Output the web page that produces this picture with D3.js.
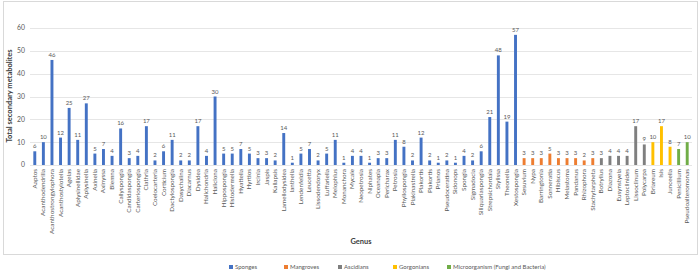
<!DOCTYPE html>
<html lang="en">
<head>
<meta charset="UTF-8">
<title>Secondary metabolites by genus</title>
<script src="https://d3js.org/d3.v7.min.js"></script>
<style>
  body { margin: 0; background: #fff; font-family: Lato, "Liberation Sans", sans-serif; }
  .grid line { stroke: #e6e6e6; stroke-width: 1px; }
  .val { font-size: 6px; fill: #595959; }
  .cat { font-size: 6.3px; fill: #595959; }
  .ytick { font-size: 6.8px; fill: #595959; }
</style>
</head>
<body>
<div id="chart"></div>
<script>
// data, one pair of arrays per group
var spongeGenera = ["Aaptos","Acanthodendrilla","Acanthostrongylophora","Acanthostylotella","Agelas",
  "Aplysinellidae","Aplysinella","Axinella","Axinyssa","Biemna","Callyspongia","Candidaspongia",
  "Carteriospongia","Clathria","Coelocarteria","Corticium","Dactylospongia","Dasychalina","Diacarnus",
  "Dysidea","Halichondria","Haliclona","Hippospongia","Histodermella","Hyattella","Hyrtios","Ircinia",
  "Jaspis","Kallapsis","Lamellodysidea","Ianthella","Lendenfeldia","Leucetta","Lissodendoryx",
  "Luffariella","Melophlus","Monanchora","Mycale","Neopetrosia","Niphates","Oceanapia","Pericharax",
  "Petrosia","Phyllospongia","Plakinastrella","Plakortis","Plakortis","Prianos","Pseudoceratina",
  "Sidonops","Spongia","Sigmadocia","Siliquariaspongia","Strepsichordaia","Stylissa","Theonella",
  "Xestospongia"];
var spongeValues = [6,10,46,12,25,11,27,5,7,4,16,3,4,17,2,6,11,2,2,17,4,30,5,5,7,5,3,3,2,14,1,5,7,2,
  5,11,1,4,4,1,3,3,11,8,2,12,2,1,2,1,4,2,6,21,48,19,57];

var mangroveGenera = ["Sesuvium","Nypa","Barringtonia","Sonneratia","Hibiscus","Melastoma","Pandanus",
  "Rhizophora","Stachytarpheta"];
var mangroveValues = [3,3,3,5,3,3,3,2,3];

var ascidianGenera = ["Botryllus","Diazona","Eusynstyela","Leptoclinides","Lissoclinum","Polycarpa"];
var ascidianValues = [3,4,4,4,17,9];

var gorgonianGenera = ["Briareum","Isis","Junceella"];
var gorgonianValues = [10,17,8];

var microGenera = ["Penicillium","Pseudoalteromonas"];
var microValues = [7,10];

var groups = [
  { name: "Sponges", color: "#4472C4", genera: spongeGenera, values: spongeValues },
  { name: "Mangroves", color: "#ED7D31", genera: mangroveGenera, values: mangroveValues },
  { name: "Ascidians", color: "#7F7F7F", genera: ascidianGenera, values: ascidianValues },
  { name: "Gorgonians", color: "#FFC000", genera: gorgonianGenera, values: gorgonianValues },
  { name: "Microorganism (Fungi and Bacteria)", color: "#70AD47", genera: microGenera, values: microValues }
];

var yTicks = [0,10,20,30,40,50,60];

var rows = [];
groups.forEach(function(g) {
  g.genera.forEach(function(name, i) {
    rows.push({ id: rows.length, genus: name, value: g.values[i], color: g.color });
  });
});

var width = 700, height = 271;
var svg = d3.select("#chart").append("svg")
  .attr("width", width)
  .attr("height", height);

// outer chart border
svg.append("rect")
  .attr("x", 3.5).attr("y", 1.5)
  .attr("width", 694).attr("height", 253)
  .attr("fill", "none").attr("stroke", "#d9d9d9");

var x = d3.scaleBand()
  .domain(rows.map(function(d) { return d.id; }))
  .range([30.5, 691.5])
  .paddingInner(0.66)
  .paddingOuter(0.33);

var y = d3.scaleLinear()
  .domain([0, 60])
  .range([165, 28]);

// gridlines
svg.append("g").attr("class", "grid")
  .selectAll("line").data(yTicks).enter().append("line")
  .attr("x1", 30).attr("x2", 692)
  .attr("y1", function(d) { return Math.round(y(d)) + 0.5; })
  .attr("y2", function(d) { return Math.round(y(d)) + 0.5; });

svg.selectAll(".ytick").data(yTicks).enter().append("text")
  .attr("class", "ytick")
  .attr("x", 25)
  .attr("y", function(d) { return y(d); })
  .attr("dy", "0.35em")
  .attr("text-anchor", "end")
  .text(function(d) { return d; });

// bars
svg.selectAll(".bar").data(rows).enter().append("rect")
  .attr("class", "bar")
  .attr("x", function(d) { return x(d.id); })
  .attr("y", function(d) { return y(d.value); })
  .attr("width", x.bandwidth())
  .attr("height", function(d) { return y(0) - y(d.value); })
  .attr("fill", function(d) { return d.color; });

// value labels
svg.selectAll(".val").data(rows).enter().append("text")
  .attr("class", "val")
  .attr("x", function(d) { return x(d.id) + x.bandwidth() / 2; })
  .attr("y", function(d) { return y(d.value) - 3; })
  .attr("text-anchor", "middle")
  .text(function(d) { return d.value; });

// category labels
svg.selectAll(".cat").data(rows).enter().append("text")
  .attr("class", "cat")
  .attr("transform", function(d) {
    return "translate(" + (x(d.id) + x.bandwidth() / 2 + 2) + ",169) rotate(-90)";
  })
  .attr("text-anchor", "end")
  .text(function(d) { return d.genus; });

// axis titles
svg.append("text")
  .attr("transform", "translate(12,96) rotate(-90)")
  .attr("text-anchor", "middle")
  .attr("font-size", "7.5px")
  .attr("font-weight", "bold")
  .attr("fill", "#404040")
  .text("Total secondary metabolites");

svg.append("text")
  .attr("x", 361).attr("y", 244)
  .attr("text-anchor", "middle")
  .attr("font-size", "7.5px")
  .attr("font-weight", "bold")
  .attr("fill", "#404040")
  .text("Genus");

// legend
var legendX = [229, 284, 338, 393, 447];
var leg = svg.selectAll(".leg").data(groups).enter().append("g")
  .attr("class", "leg")
  .attr("transform", function(d, i) { return "translate(" + legendX[i] + ",265)"; });
leg.append("rect")
  .attr("width", 4).attr("height", 4)
  .attr("fill", function(d) { return d.color; });
leg.append("text")
  .attr("x", 6).attr("y", 4)
  .attr("font-size", "6px")
  .attr("fill", "#595959")
  .text(function(d) { return d.name; });
</script>
</body>
</html>
